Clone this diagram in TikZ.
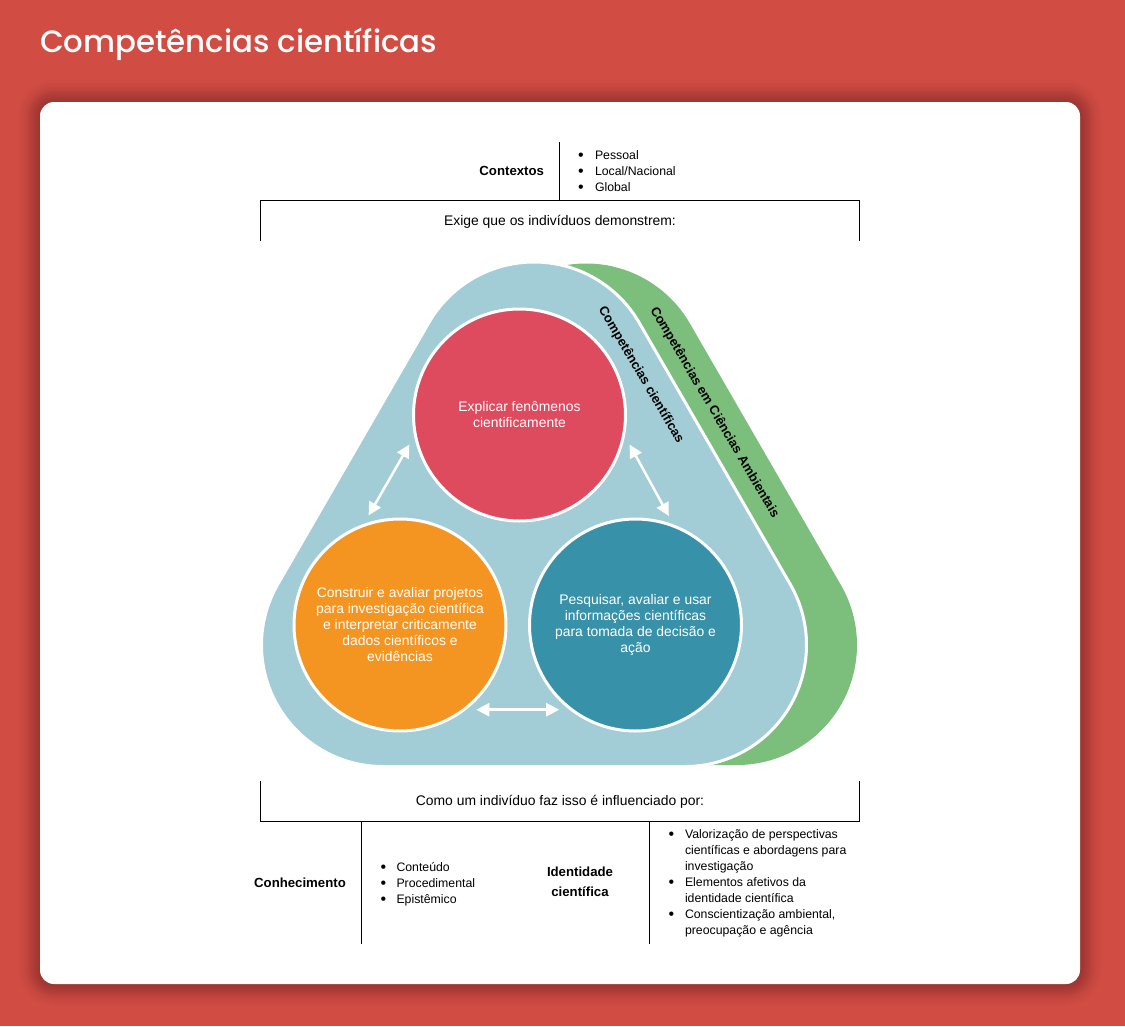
\documentclass[tikz,border=0pt]{standalone}
\usepackage{fontspec}
\setmainfont{Liberation Sans}
\newfontfamily\titlefont{Poppins Medium}
\usetikzlibrary{arrows.meta}
\definecolor{pagered}{HTML}{D14D44}
\definecolor{blobgreen}{HTML}{7CBE7C}
\definecolor{blobblue}{HTML}{A2CCD6}
\definecolor{circred}{HTML}{DE4A5E}
\definecolor{circorange}{HTML}{F49522}
\definecolor{circteal}{HTML}{3791A8}
\newcommand{\blobpath}[1]{([shift={(150:#1)}]534,-383.5) arc[start angle=150,end angle=30,radius=#1] -- ([shift={(30:#1)}]685,-645) arc[start angle=30,end angle=-90,radius=#1] -- ([shift={(-90:#1)}]383,-645) arc[start angle=-90,end angle=-210,radius=#1] -- cycle}
\newcommand{\bul}{\raisebox{-.9pt}{\fontsize{16}{16}\selectfont\textbullet}}
\begin{document}
\begin{tikzpicture}[x=1pt,y=1pt,inner sep=0pt,outer sep=0pt,
bigcircle/.style={draw=white,circle,line width=3pt,minimum size=212pt,outer sep=8pt,text=white,align=center,font=\fontsize{13.9}{16}\selectfont},
twoway/.style={white,line width=2.5pt,{Triangle[length=13pt,width=13pt]}-{Triangle[length=13pt,width=13pt]}},
rule/.style={line width=1pt,black},
headtext/.style={font=\fontsize{13.9}{16}\selectfont},
boldtext/.style={font=\fontsize{13.2}{20}\selectfont\bfseries,align=center},
listbox/.style={anchor=west,font=\fontsize{12.3}{16}\selectfont},
sidelabel/.style={font=\fontsize{13}{14}\selectfont\bfseries,rotate=-59.5}]
\useasboundingbox (0,0) rectangle (1125,-1026);
\fill[pagered] (0,0) rectangle (1125,-1026);
\node[anchor=west,text=white,font=\titlefont\fontsize{30.8}{40}\selectfont] (title) at (40,-44) {Competências científicas};
% card with its soft shadow
\foreach \g in {1,2,3,4,5,6,7,8,9,10,11,12,14,16,19,22}
  \fill[black,opacity=.014,rounded corners=14+\g] ({40-\g},{-102+\g}) rectangle ({1080+\g},{-984-\g});
\fill[white,rounded corners=14pt] (40,-102) rectangle (1080,-984);
% top block
\coordinate (sepTop) at (559.5,-142);
\coordinate (sepBot) at (559.5,-200.5);
\coordinate (frameTL) at (260.5,-241);
\coordinate (frameTR) at (859.5,-241);
\draw[rule] (sepTop) -- (sepBot);
\draw[rule] (frameTL) |- (frameTR |- sepBot) -- (frameTR);
\node[boldtext,anchor=east] (contextos) at (544,-170.5) {Contextos};
\node[listbox] (contextlist) at (578,-172) {\begin{tabular}{@{}p{17pt}@{}l@{}}
\bul & Pessoal\\
\bul & Local/Nacional\\
\bul & Global
\end{tabular}};
\node[headtext] (demand) at (560,-221.5) {Exige que os indivíduos demonstrem:};
% the two blobs
\begin{scope}[xshift=52pt]
\fill[blobgreen] \blobpath{120};
\end{scope}
\draw[white,line width=3pt,fill=blobblue] \blobpath{121.5};
\node[sidelabel] (bluelabel) at (641,-375) {Competências científicas};
\node[sidelabel] (greenlabel) at (714.5,-412.5) {Competências em Ciências Ambientais};
% circles
\node[bigcircle,fill=circred] (explain) at (519.5,-415) {Explicar fenômenos\\cientificamente};
\node[bigcircle,fill=circorange] (construct) at (400,-625) {Construir e avaliar projetos\\para investigação científica\\e interpretar criticamente\\dados científicos e\\evidências};
\node[bigcircle,fill=circteal] (research) at (635.5,-625) {Pesquisar, avaliar e usar\\informações científicas\\para tomada de decisão e\\ação};
\draw[twoway] (explain.195) -- (construct.106);
\draw[twoway] (explain.-15) -- (research.73);
\draw[twoway] (construct.-48) -- (research.228);
% bottom block
\coordinate (frameBL) at (260.5,-781);
\coordinate (frameBR) at (859.5,-781);
\coordinate (ruleLow) at (559.5,-821.5);
\coordinate (sepOneTop) at (361.5,-821.5);
\coordinate (sepOneBot) at (361.5,-944);
\coordinate (sepTwoTop) at (649.5,-821.5);
\coordinate (sepTwoBot) at (649.5,-944);
\draw[rule] (frameBL) |- (frameBR |- ruleLow) -- (frameBR);
\draw[rule] (sepOneTop) -- (sepOneBot);
\draw[rule] (sepTwoTop) -- (sepTwoBot);
\node[headtext] (influence) at (560,-801.5) {Como um indivíduo faz isso é influenciado por:};
\node[boldtext] (knowledge) at (300,-882.5) {Conhecimento};
\node[listbox] (knowlist) at (380.5,-884) {\begin{tabular}{@{}p{16pt}@{}l@{}}
\bul & Conteúdo\\
\bul & Procedimental\\
\bul & Epistêmico
\end{tabular}};
\node[boldtext] (identity) at (580,-882) {Identidade\\científica};
\node[listbox] (identlist) at (668.5,-883) {\begin{tabular}{@{}p{16.5pt}@{}l@{}}
\bul & Valorização de perspectivas\\
 & científicas e abordagens para\\
 & investigação\\
\bul & Elementos afetivos da\\
 & identidade científica\\
\bul & Conscientização ambiental,\\
 & preocupação e agência
\end{tabular}};
\end{tikzpicture}
\end{document}
